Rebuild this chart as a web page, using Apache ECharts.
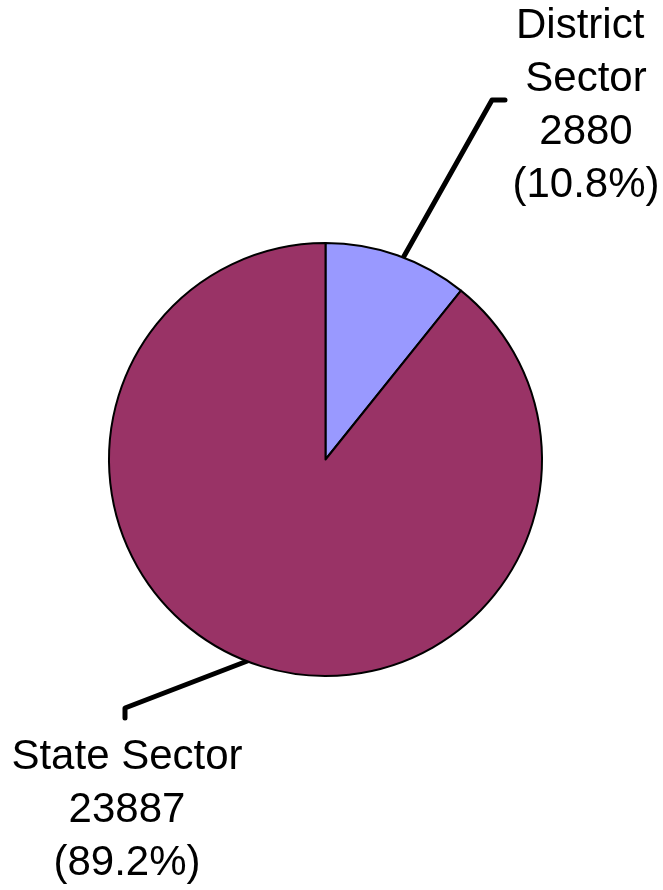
<!DOCTYPE html>
<html><head><meta charset="utf-8">
<script src="https://cdn.jsdelivr.net/npm/echarts@6/dist/echarts.min.js"></script>
<style>html,body{margin:0;padding:0;background:#fff}#c{width:663px;height:890px}</style>
</head><body><div id="c"></div>
<script>
const categories = ['District Sector', 'State Sector'];
const values = [2880, 23887];
const colors = ['#9999FF', '#993366'];
const labelWidths = [170, 280];

const chart = echarts.init(document.getElementById('c'), null, {renderer: 'canvas'});
const layouts = [
  {x: 586, y: 0, points: [[403, 258], [492, 100], [505, 100]]},
  {x: 127, y: 731, points: [[250, 660], [125, 708], [125, 718]]}
];
chart.setOption({
  animation: false,
  series: [{
    type: 'pie',
    center: [325.5, 459.5],
    radius: 216.5,
    startAngle: 90,
    clockwise: true,
    percentPrecision: 1,
    itemStyle: {borderColor: '#000', borderWidth: 2},
    label: {
      show: true,
      formatter: '{b}\n{c}\n({d}%)',
      fontFamily: 'Liberation Sans, Arial, sans-serif',
      fontSize: 42,
      lineHeight: 53,
      color: '#000',
      align: 'center',
      overflow: 'break'
    },
    labelLine: {show: true, lineStyle: {color: '#000', width: 5, cap: 'round', join: 'round'}},
    labelLayout: function (p) {
      const l = layouts[p.dataIndex];
      return {x: l.x, y: l.y, align: 'center', verticalAlign: 'top', labelLinePoints: l.points};
    },
    data: categories.map((n, i) => ({
      name: n, value: values[i],
      itemStyle: {color: colors[i]},
      label: {width: labelWidths[i]}
    }))
  }]
});
</script></body></html>
